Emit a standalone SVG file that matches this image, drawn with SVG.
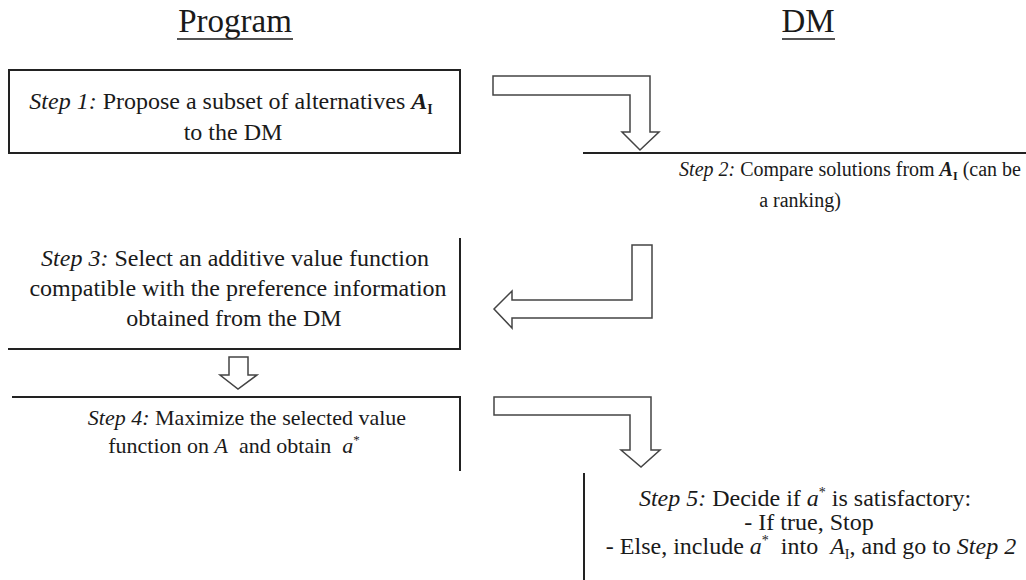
<svg xmlns="http://www.w3.org/2000/svg" width="1026" height="580" viewBox="0 0 1026 580">
<style>
.t{font-family:"Liberation Serif","Times New Roman",serif;font-size:24px;fill:#1a1a1a;text-anchor:middle}
.s{font-size:20px}
.s4{font-size:22px}
.h{font-family:"Liberation Serif","Times New Roman",serif;font-size:33px;fill:#1a1a1a;text-anchor:middle}
.i{font-style:italic}
.m{font-style:italic;font-weight:bold}
.box{fill:none;stroke:#222;stroke-width:2}
.arr{fill:#fff;stroke:#444;stroke-width:1.5;stroke-linejoin:miter}
.ul{stroke:#1a1a1a;stroke-width:1.5}
</style>
<rect width="1026" height="580" fill="#fff"/>
<g id="title-program">
<text class="h" x="235" y="32">Program</text>
<line class="ul" x1="177" y1="39" x2="293" y2="39"/>
</g>
<g id="title-dm">
<text class="h" x="808" y="32">DM</text>
<line class="ul" x1="782" y1="39" x2="835" y2="39"/>
</g>
<g id="step1">
<rect class="box" x="9" y="70" width="451" height="83"/>
<text class="t" x="231" y="109"><tspan class="i">Step 1:</tspan> Propose a subset of alternatives <tspan class="m">A</tspan><tspan font-size="14" dy="5" font-weight="bold">I</tspan></text>
<text class="t" x="233" y="140">to the DM</text>
</g>
<g id="step2">
<line class="box" x1="583" y1="153" x2="1026" y2="153"/>
<text class="t s" x="850" y="176"><tspan class="i">Step 2:</tspan> Compare solutions from <tspan class="m">A</tspan><tspan font-size="12" dy="4" font-weight="bold">I</tspan><tspan dy="-4">  (can be</tspan></text>
<text class="t s" x="800" y="207">a ranking)</text>
</g>
<g id="step3">
<polyline class="box" points="460,238 460,349 8,349"/>
<text class="t" x="235" y="266"><tspan class="i">Step 3:</tspan> Select an additive value function</text>
<text class="t" x="238" y="296">compatible with the preference information</text>
<text class="t" x="234" y="326">obtained from the DM</text>
</g>
<g id="step4">
<polyline class="box" points="12,397 460,397 460,471"/>
<text class="t s4" x="247" y="425"><tspan class="i">Step 4:</tspan> Maximize the selected value</text>
<text class="t s4" x="234" y="453" xml:space="preserve">function on <tspan class="i">A</tspan>  and obtain  <tspan class="i">a</tspan><tspan font-size="13" dy="-9">*</tspan></text>
</g>
<g id="step5">
<line class="box" x1="584" y1="473" x2="584" y2="580"/>
<text class="t" x="805" y="506"><tspan class="i">Step 5:</tspan> Decide if <tspan class="i">a</tspan><tspan font-size="14" dy="-9">*</tspan><tspan dy="9"> is satisfactory:</tspan></text>
<text class="t" x="809" y="530">- If true, Stop</text>
<text class="t" x="811" y="554" xml:space="preserve">- Else, include <tspan class="i">a</tspan><tspan font-size="14" dy="-9">*</tspan><tspan dy="9">  into  </tspan><tspan class="i">A</tspan><tspan font-size="14" dy="5">I</tspan><tspan dy="-5">, and go to </tspan><tspan class="i">Step 2</tspan></text>
</g>
<g id="connectors">
<polygon id="arrow-1-2" class="arr" points="493,76 650,76 650,132 659,132 640,150 622,132 630,132 630,95 493,95"/>
<polygon id="arrow-2-3" class="arr" points="632,245 652,245 652,318 512,318 512,328 494,309 512,291 512,300 632,300"/>
<polygon id="arrow-3-4" class="arr" points="229,357 248,357 248,375 257,375 238,389 220,375 229,375"/>
<polygon id="arrow-4-5" class="arr" points="494,397 651,397 651,450 660,450 641,467 621,450 630,450 630,415 494,415"/>
</g>
</svg>
